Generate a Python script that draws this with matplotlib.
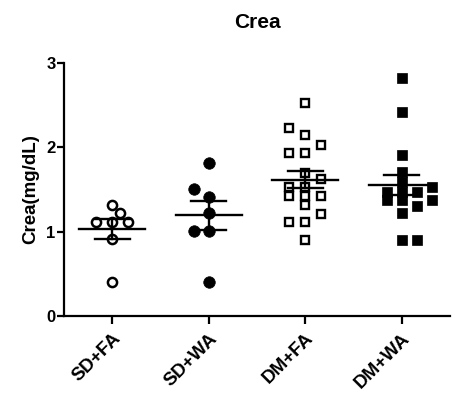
import numpy as np
import matplotlib
matplotlib.use("Agg")
import matplotlib.pyplot as plt

plt.rcParams['font.family'] = ['Liberation Sans', 'DejaVu Sans']
plt.rcParams['font.weight'] = 'bold'

groups = ["SD+FA", "SD+WA", "DM+FA", "DM+WA"]
sd_fa = [1.32, 1.22, 1.12, 1.12, 1.12, 0.91, 0.40]
sd_wa = [1.81, 1.51, 1.41, 1.22, 1.01, 1.01, 0.40]
dm_fa = [2.52, 2.23, 2.15, 2.03, 1.93, 1.93, 1.70, 1.62, 1.53, 1.53, 1.42, 1.42,
         1.42, 1.31, 1.21, 1.11, 1.11, 0.90]
dm_wa = [2.82, 2.42, 1.91, 1.71, 1.59, 1.53, 1.47, 1.47, 1.47, 1.38, 1.38, 1.38,
         1.30, 1.22, 0.90, 0.90]
values = [sd_fa, sd_wa, dm_fa, dm_wa]
markers = ['o', 'o', 's', 's']
filled = [False, True, False, True]
# swarm settings per group (px): spacing, min distance, first side
steps = [8, 15, 16, 15]
dists = [9.0, 9.0, 8.6, 7.0]
first_side = [1, -1, -1, 1]


def swarm(vals, step, d, side, px_x=96.0, px_y=84.3):
    # place points low to high in the first free slot: centre, then alternate sides
    placed = []
    offs = []
    for v in vals:
        k = 0
        while True:
            if k == 0:
                cand = 0
            else:
                cand = ((k + 1) // 2) * step * (side if k % 2 else -side)
            hit = any(np.hypot(cand - px, v * px_y - py) < d for px, py in placed)
            if not hit:
                break
            k += 1
        placed.append((cand, v * px_y))
        offs.append(cand / px_x)
    return np.array(offs)


fig = plt.figure(figsize=(4.65, 3.98), dpi=100)
ax = fig.add_axes([0.1376, 0.206, 0.83, 0.636])

for i, vals in enumerate(values):
    vals = np.sort(np.array(vals))
    xs = i + swarm(vals, steps[i], dists[i], first_side[i])
    if markers[i] == 'o':
        if filled[i]:
            ax.plot(xs, vals, ls='none', marker='o', ms=8.3, mfc='black',
                    mec='black', mew=0.5, zorder=3)
        else:
            ax.plot(xs, vals, ls='none', marker='o', ms=6.6, mfc='white',
                    mec='black', mew=1.8, zorder=3)
    else:
        if filled[i]:
            ax.plot(xs, vals, ls='none', marker='s', ms=7.6, mfc='black',
                    mec='black', mew=0.5, zorder=3)
        else:
            ax.plot(xs, vals, ls='none', marker='s', ms=6.2, mfc='white',
                    mec='black', mew=1.7, zorder=3)
    m = vals.mean()
    sem = vals.std(ddof=1) / np.sqrt(len(vals))
    ax.plot([i - 0.34, i + 0.34], [m, m], color='black', lw=1.7, zorder=4)
    ax.plot([i, i], [m - sem, m + sem], color='black', lw=1.7, zorder=4)
    for y in (m - sem, m + sem):
        ax.plot([i - 0.18, i + 0.18], [y, y], color='black', lw=1.7, zorder=4)

ax.set_xlim(-0.5, 3.5)
ax.set_ylim(0, 3)
ax.set_yticks([0, 1, 2, 3])
ax.set_xticks(range(len(groups)))
ax.set_xticklabels(groups, rotation=45, ha='right', rotation_mode='anchor',
                   fontsize=13.5, fontweight='bold')
for lab in ax.get_yticklabels():
    lab.set_fontsize(12)
    lab.set_fontweight('bold')
ax.spines['top'].set_visible(False)
ax.spines['right'].set_visible(False)
ax.spines['left'].set_linewidth(1.6)
ax.spines['bottom'].set_linewidth(1.6)
ax.tick_params(axis='y', direction='out', length=5, width=1.6, pad=1)
ax.tick_params(axis='x', direction='out', length=6, width=1.6, pad=4)
ax.set_ylabel('Crea(mg/dL)', fontsize=13.5, fontweight='bold', labelpad=5)
ax.set_title('Crea', fontsize=15, fontweight='bold', pad=25)

fig.savefig('out.png', dpi=100)
